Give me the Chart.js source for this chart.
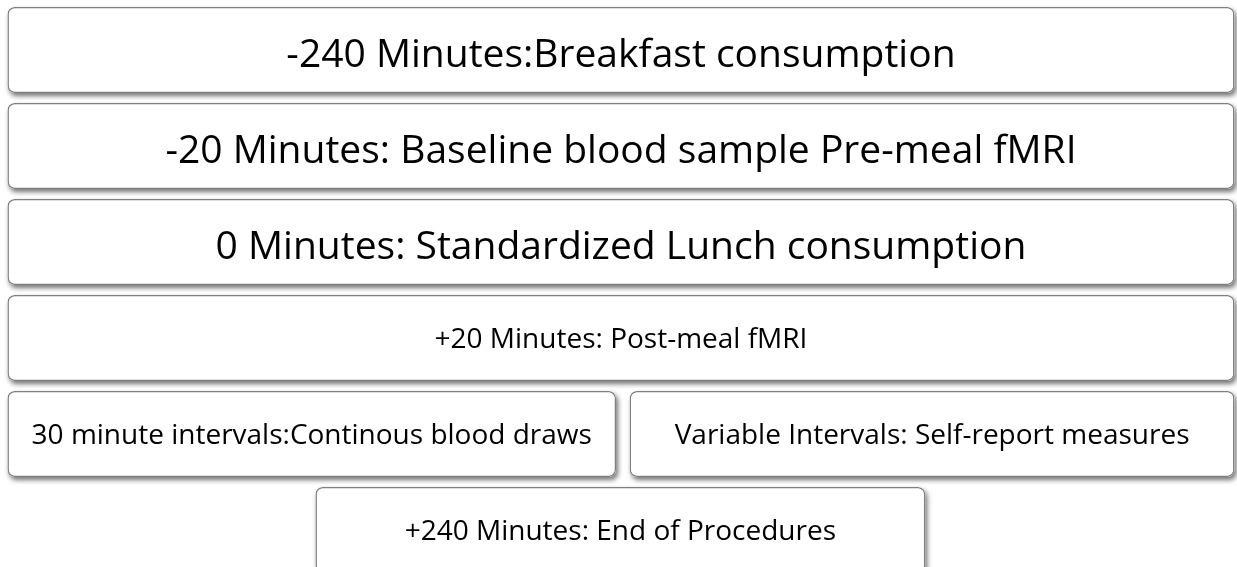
<!DOCTYPE html>
<html>
<head>
<meta charset="utf-8">
<script src="https://cdn.jsdelivr.net/npm/chart.js@4.4.0/dist/chart.umd.min.js"></script>
<style>
  html, body { margin: 0; padding: 0; background: #fff; overflow: hidden; }
  #wrap { width: 1237px; height: 578px; }
</style>
</head>
<body>
<div id="wrap"><canvas id="myChart"></canvas></div>
<script>
// timeline steps, one box each
const steps = [
  "-240 Minutes:Breakfast consumption",
  "-20 Minutes: Baseline blood sample Pre-meal fMRI",
  "0 Minutes: Standardized Lunch consumption",
  "+20 Minutes: Post-meal fMRI",
  "30 minute intervals:Continous blood draws",
  "Variable Intervals: Self-report measures",
  "+240 Minutes: End of Procedures"
];
// which row each step sits on
const stepRow = ["row1", "row2", "row3", "row4", "row5", "row5", "row6"];
const rows = ["row1", "row2", "row3", "row4", "row5", "row6"];
// horizontal span of each box, in percent of the width
const spanStart = [0.6, 0.6, 0.6, 0.6, 0.6, 50.9, 25.5];
const spanEnd = [99.8, 99.8, 99.8, 99.8, 49.8, 99.8, 74.8];
// big or small lettering
const bigText = [true, true, true, false, false, false, false];

const boxes = steps.map((s, i) => ({ y: stepRow[i], x: [spanStart[i], spanEnd[i]] }));

function barRect(bar) {
  const p = bar.getProps(['x', 'y', 'base', 'height'], true);
  const left = Math.min(p.x, p.base), right = Math.max(p.x, p.base);
  return { left, right, top: p.y - p.height / 2, h: p.height, cy: p.y };
}

// soft drop shadow under every box (drawn before chart.js paints the boxes)
const boxShadow = {
  id: 'boxShadow',
  beforeDatasetsDraw(chart) {
    const ctx = chart.ctx;
    ctx.save();
    ctx.shadowColor = 'rgba(0,0,0,0.55)';
    ctx.shadowBlur = 5;
    ctx.shadowOffsetX = 2;
    ctx.shadowOffsetY = 3;
    ctx.fillStyle = '#ffffff';
    chart.getDatasetMeta(0).data.forEach(bar => {
      const r = barRect(bar);
      ctx.beginPath();
      ctx.roundRect(r.left, r.top, r.right - r.left, r.h, 7);
      ctx.fill();
    });
    ctx.restore();
  }
};

const boxLabels = {
  id: 'boxLabels',
  afterDatasetsDraw(chart) {
    const ctx = chart.ctx;
    ctx.save();
    ctx.fillStyle = '#000';
    ctx.textAlign = 'center';
    ctx.textBaseline = 'alphabetic';
    chart.getDatasetMeta(0).data.forEach((bar, i) => {
      const r = barRect(bar);
      const size = bigText[i] ? 39 : 28;
      const shift = bigText[i] ? 3 : 0;
      ctx.font = size + 'px "Open Sans"';
      ctx.fillText(steps[i], (r.left + r.right) / 2, r.cy + size * 0.36 + shift);
    });
    ctx.restore();
  }
};

const cxt = document.getElementById('myChart').getContext('2d');
const myChart = new Chart(cxt, {
  type: 'bar',
  data: {
    labels: rows,
    datasets: [{
      data: boxes,
      backgroundColor: '#ffffff',
      borderColor: '#808080',
      borderWidth: 1.5,
      borderRadius: 7,
      borderSkipped: false,
      categoryPercentage: 1,
      barPercentage: 0.895
    }]
  },
  options: {
    indexAxis: 'y',
    responsive: true,
    maintainAspectRatio: false,
    animation: false,
    layout: { padding: { top: 2, left: 0, right: 0, bottom: 0 } },
    scales: {
      x: { type: 'linear', min: 0, max: 100, display: false },
      y: { type: 'category', display: false }
    },
    plugins: {
      legend: { display: false },
      tooltip: { enabled: false }
    }
  },
  plugins: [boxShadow, boxLabels]
});
</script>
</body>
</html>
